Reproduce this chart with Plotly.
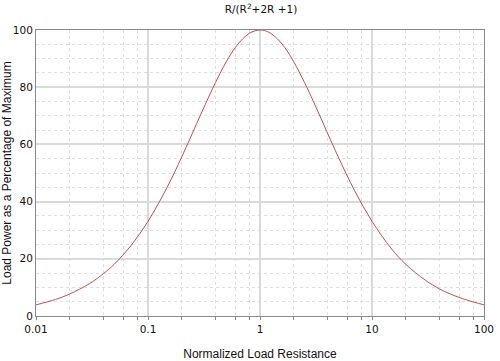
import plotly.graph_objects as go

# Normalized load resistance (R) and load power (% of maximum)
resistance = [0.01, 0.015, 0.02, 0.03, 0.04, 0.05, 0.07, 0.1, 0.15, 0.2, 0.3, 0.4, 0.5,
              0.6, 0.7, 0.8, 0.9, 1.0, 1.1, 1.25, 1.43, 1.67, 2, 2.5, 3, 4, 5, 7, 10,
              15, 20, 30, 40, 50, 70, 100]
power_pct = [3.9, 5.8, 7.7, 11.3, 14.8, 18.1, 24.5, 33.1, 45.4, 55.6, 71.0, 81.6, 88.9,
             93.8, 96.9, 98.8, 99.7, 100.0, 99.8, 98.8, 96.9, 93.8, 88.9, 81.6, 75.0, 64.0,
             55.6, 43.8, 33.1, 23.4, 18.1, 12.5, 9.5, 7.7, 5.6, 3.9]

x_major = [0.01, 0.1, 1, 10, 100]
x_major_labels = ["0.01", "0.1", "1", "10", "100"]
x_minor = [m * d for d in [0.01, 0.1, 1, 10] for m in (2, 4, 6, 8)]
y_major = [0, 20, 40, 60, 80, 100]

fig = go.Figure()
fig.add_trace(go.Scatter(
    x=resistance, y=power_pct, mode="lines",
    line=dict(color="#c0504d", width=1, shape="spline"),
    showlegend=False, hoverinfo="skip",
))

tick_font = dict(family="DejaVu Sans", size=10.5, color="#111111")
title_font = dict(family="Liberation Sans", size=12, color="#111111")

fig.update_layout(
    width=500, height=361,
    margin=dict(l=36, r=16, t=30, b=45, autoexpand=False),
    paper_bgcolor="white", plot_bgcolor="white",
    title=dict(text="R/(R<sup>2</sup>+2R +1)", x=0.522, xanchor="center",
               yref="container", y=1 - 9.5 / 361, yanchor="middle",
               font=dict(family="DejaVu Sans", size=10.5, color="#111111")),
    xaxis=dict(
        type="log", range=[-2, 2], automargin=False,
        tickmode="array", tickvals=x_major, ticktext=x_major_labels,
        tickfont=tick_font, ticks="outside", ticklen=3, tickcolor="#888888",
        showgrid=True, gridcolor="#dadada", gridwidth=1.5,
        showline=True, linecolor="#8a8a8a", linewidth=1, mirror=True,
        zeroline=False,
        minor=dict(tickmode="array", tickvals=x_minor, ticks="outside", ticklen=3,
                   tickcolor="#888888", showgrid=True, gridcolor="#e0e0e0",
                   griddash="dot", gridwidth=1),
        title=dict(text="Normalized Load Resistance", font=title_font, standoff=16),
    ),
    yaxis=dict(
        range=[0, 100], tickmode="array", tickvals=y_major, automargin=False,
        tickfont=tick_font, ticks="",
        showgrid=True, gridcolor="#dadada", gridwidth=1.5,
        showline=True, linecolor="#8a8a8a", linewidth=1, mirror=True,
        zeroline=False,
        minor=dict(dtick=5, showgrid=True, gridcolor="#e0e0e0", griddash="dot", gridwidth=1),
        title=dict(text="Load Power as a Percentage of Maximum", font=title_font, standoff=6),
    ),
)

fig.write_html("out.html", config={"displayModeBar": False},
               post_script="document.body.style.margin='0';")
